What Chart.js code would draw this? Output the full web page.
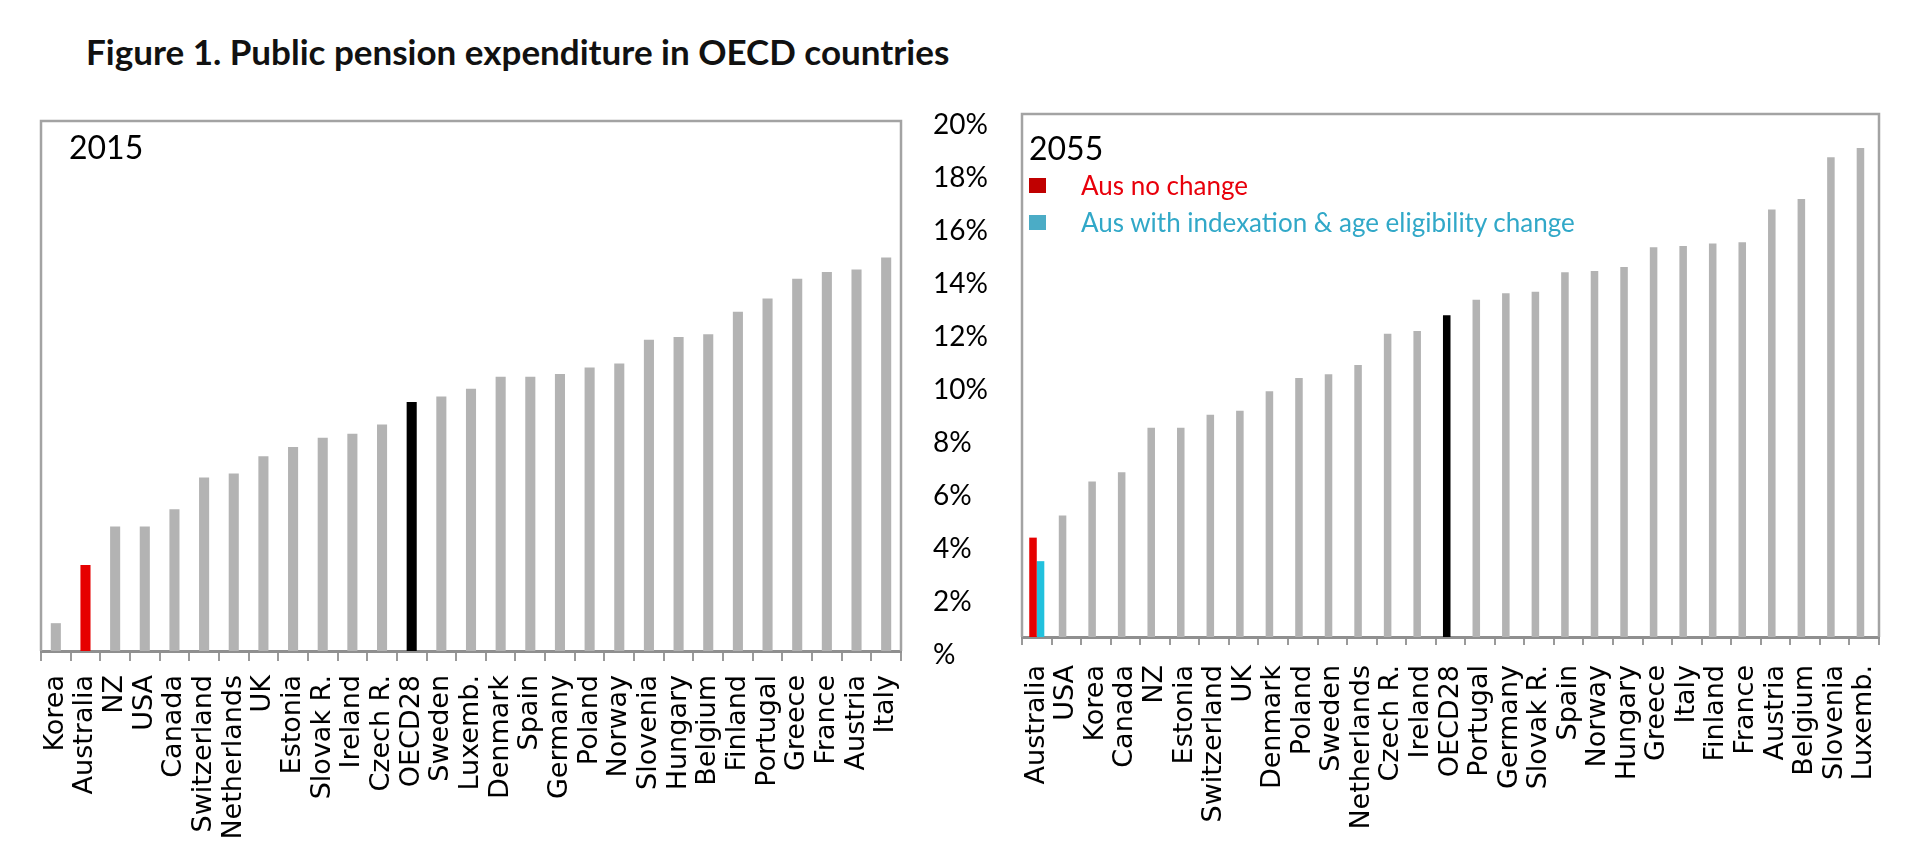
<!DOCTYPE html>
<html>
<head>
<meta charset="utf-8">
<script src="https://cdn.jsdelivr.net/npm/chart.js@4.4.1/dist/chart.umd.min.js"></script>
<style>
    html, body { margin: 0; padding: 0; background: #fff; }
    body { width: 1920px; height: 854px; position: relative; overflow: hidden; font-family: Lato, "Noto Sans", sans-serif; }
    .teks { position: absolute; white-space: nowrap; line-height: 1; }
    .kotak-legend { position: absolute; width: 17px; height: 15px; }
    #title { left: 86px; top: 34px; font-size: 35px; font-weight: bold; color: #111; }
    #w2015 { position: absolute; left: 0; top: 100px; width: 1000px; height: 754px; }
    #w2055 { position: absolute; left: 1000px; top: 100px; width: 920px; height: 754px; }
</style>
</head>
<body>
<div id="title" class="teks">Figure 1. Public pension expenditure in OECD countries</div>
<div id="w2015"><canvas id="c2015" width="1000" height="754"></canvas></div>
<div id="w2055"><canvas id="c2055" width="920" height="754"></canvas></div>
<div class="teks" style="left:69px; top:131px; font-size:32px; color:#000;">2015</div>
<div class="teks" style="left:1029px; top:132px; font-size:32px; color:#000;">2055</div>
<div class="kotak-legend" style="left:1029px; top:178px; background:#c00000;"></div>
<div class="teks" style="left:1081px; top:172px; font-size:26px; color:#e8000b;">Aus no change</div>
<div class="kotak-legend" style="left:1029px; top:215px; background:#4bacc6;"></div>
<div class="teks" style="left:1081px; top:209px; font-size:26px; color:#31a8c8;">Aus with indexation &amp; age eligibility change</div>
<script>
// data (% PDB)
const negara2015 = ["Korea", "Australia", "NZ", "USA", "Canada", "Switzerland", "Netherlands", "UK", "Estonia", "Slovak R.", "Ireland", "Czech R.", "OECD28", "Sweden", "Luxemb.", "Denmark", "Spain", "Germany", "Poland", "Norway", "Slovenia", "Hungary", "Belgium", "Finland", "Portugal", "Greece", "France", "Austria", "Italy"];
const nilai2015 = [1.05, 3.25, 4.7, 4.7, 5.35, 6.55, 6.7, 7.35, 7.7, 8.05, 8.2, 8.55, 9.4, 9.6, 9.9, 10.35, 10.35, 10.45, 10.7, 10.85, 11.75, 11.85, 11.95, 12.8, 13.3, 14.05, 14.3, 14.4, 14.85];

const negara2055 = ["Australia", "USA", "Korea", "Canada", "NZ", "Estonia", "Switzerland", "UK", "Denmark", "Poland", "Sweden", "Netherlands", "Czech R.", "Ireland", "OECD28", "Portugal", "Germany", "Slovak R.", "Spain", "Norway", "Hungary", "Greece", "Italy", "Finland", "France", "Austria", "Belgium", "Slovenia", "Luxemb."];
const nilai2055 = [3.8, 4.65, 5.95, 6.3, 8.0, 8.0, 8.5, 8.65, 9.4, 9.9, 10.05, 10.4, 11.6, 11.7, 12.3, 12.9, 13.15, 13.2, 13.95, 14.0, 14.15, 14.9, 14.95, 15.05, 15.1, 16.35, 16.75, 18.35, 18.7];
const ausReform2055 = 2.9; // Aus with indexation & age eligibility change

const labelSumbuY = ["%", "2%", "4%", "6%", "8%", "10%", "12%", "14%", "16%", "18%", "20%"];

// warna batang: Australia merah, OECD28 hitam, lainnya abu-abu
function warna(n) {
    if (n === "Australia") return "#e60000";
    if (n === "OECD28") return "#000000";
    return "#b3b3b3";
}

// gambar bingkai abu-abu di sekeliling area chart (kiri, atas, kanan)
const bingkai = {
    id: "bingkai",
    beforeDatasetsDraw(chart) {
        const a = chart.chartArea;
        const ctx = chart.ctx;
        ctx.save();
        ctx.strokeStyle = "#a3a3a3";
        ctx.lineWidth = 2.5;
        ctx.beginPath();
        ctx.moveTo(a.left, a.bottom);
        ctx.lineTo(a.left, a.top);
        ctx.lineTo(a.right, a.top);
        ctx.lineTo(a.right, a.bottom);
        ctx.stroke();
        ctx.restore();
    },
};

function sumbuX(tickLen, pad) {
    return {
        grid: { display: true, offset: true, drawOnChartArea: false, drawTicks: true, tickLength: tickLen, color: "#9a9a9a", lineWidth: 2 },
        border: { display: true, color: "#8f8f8f", width: 3 },
        ticks: {
            autoSkip: false,
            minRotation: 90,
            maxRotation: 90,
            padding: pad,
            color: "#000",
            font: { family: "DejaVu Sans", size: 27 },
        },
    };
}

const x2015 = sumbuX(10, 14);
x2015.afterFit = (s) => { s.height = 203; };

new Chart(document.getElementById("c2015"), {
    type: "bar",
    data: {
        labels: negara2015,
        datasets: [
            {
                data: nilai2015,
                backgroundColor: negara2015.map(warna),
                categoryPercentage: 0.34,
                barPercentage: 1,
            },
        ],
    },
    options: {
        responsive: false,
        animation: false,
        layout: { padding: { left: 41, top: 21, right: 0, bottom: 0 } },
        plugins: { legend: { display: false }, tooltip: { enabled: false } },
        scales: {
            x: x2015,
            y: {
                position: "right",
                min: 0,
                max: 20,
                grid: { display: false, drawTicks: false },
                border: { display: false },
                ticks: {
                    stepSize: 2,
                    padding: 32,
                    labelOffset: 4,
                    color: "#000",
                    font: { family: "Lato", size: 28 },
                    callback: (v, i) => labelSumbuY[i],
                },
                afterFit: (s) => {
                    s.width = 99;
                    // jangan biarkan padding label menggeser area chart
                    s.paddingTop = 0;
                    s.paddingBottom = 0;
                },
            },
        },
    },
    plugins: [bingkai],
});

const x2055 = sumbuX(8, 20);
x2055.afterFit = (s) => { s.height = 217; };

new Chart(document.getElementById("c2055"), {
    type: "bar",
    data: {
        labels: negara2055,
        datasets: [
            {
                label: "Aus no change",
                data: nilai2055,
                backgroundColor: negara2055.map(warna),
                categoryPercentage: 0.51,
                barPercentage: 1,
            },
            {
                label: "Aus with indexation & age eligibility change",
                data: negara2055.map((n) => (n === "Australia" ? ausReform2055 : null)),
                backgroundColor: "#22c1dd",
                categoryPercentage: 0.51,
                barPercentage: 1,
            },
        ],
    },
    options: {
        responsive: false,
        animation: false,
        layout: { padding: { left: 22, top: 14, right: 41, bottom: 0 } },
        plugins: { legend: { display: false }, tooltip: { enabled: false } },
        scales: {
            x: x2055,
            y: { display: false, min: 0, max: 20 },
        },
    },
    plugins: [bingkai],
});
</script>
</body>
</html>
